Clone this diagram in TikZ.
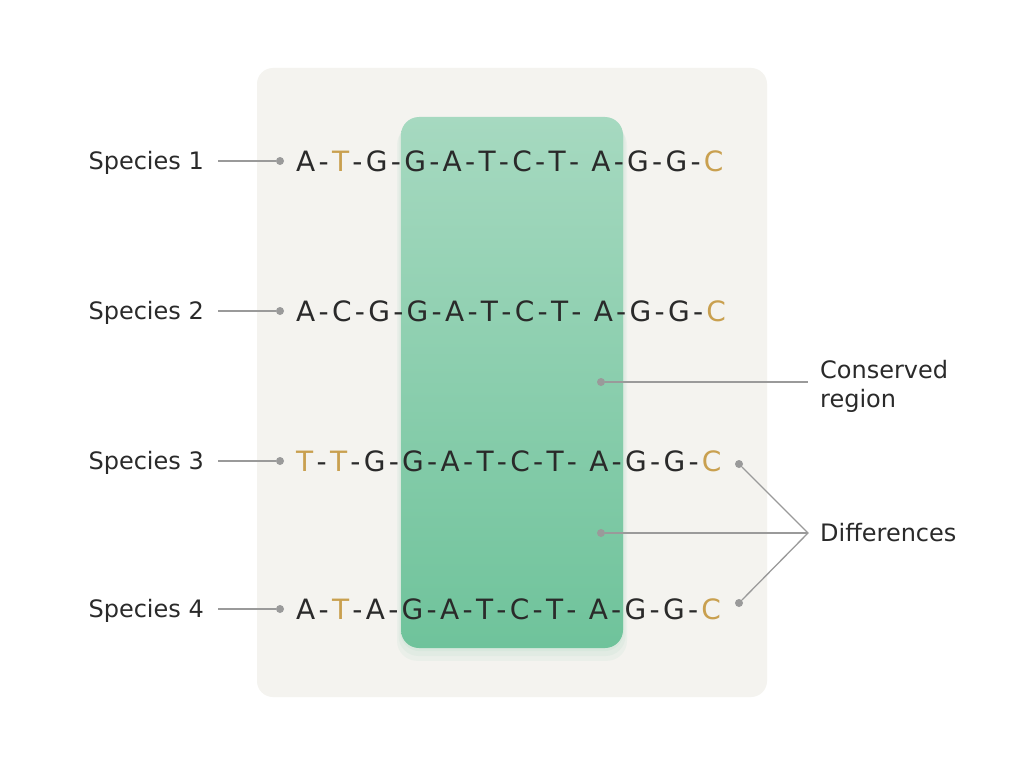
\documentclass[tikz,border=0pt]{standalone}
\usepackage{fontspec}
\setmainfont{DejaVu Sans}
\usetikzlibrary{positioning}

\definecolor{ink}{HTML}{2A2A2A}
\definecolor{gold}{HTML}{C9A04F}
\definecolor{panel}{HTML}{F4F3EF}
\definecolor{wiregray}{HTML}{9A9A9A}
\definecolor{greentop}{HTML}{A6D9C0}
\definecolor{greenbot}{HTML}{6FC39B}

\newcommand{\bond}{\kern3.3pt-\kern3.3pt}
\newcommand{\dif}[1]{\textcolor{gold}{#1}}

\begin{document}
\begin{tikzpicture}[x=1pt, y=-1pt,
    tag/.style = {font=\fontsize{24}{29}\selectfont, text=ink, inner sep=0pt},
    seq/.style = {font=\fontsize{28}{30}\selectfont, text=ink, inner sep=0pt},
    dot/.style = {circle, fill=wiregray, inner sep=0pt, minimum size=8pt},
    wire/.style = {draw=wiregray, line width=1.3pt}]
  \useasboundingbox (0,0) rectangle (1024,765);
  \fill[white] (0,0) rectangle (1024,765);
  % panel and conserved block
  \fill[panel, rounded corners=16pt] (257,68) rectangle (767,697);
  \foreach \g in {8,5,2}
    \fill[greenbot, opacity=0.07, rounded corners=20pt]
      (401-\g/2,117+\g) rectangle (623+\g/2,648+\g*1.6);
  \shade[top color=greentop, bottom color=greenbot, rounded corners=18pt]
    (401,117) rectangle (623,648);

  % species labels
  \foreach \i/\y in {1/161,2/311,3/461,4/609}{
    \node[tag, anchor=base east] (sp\i) at (204,\y+8.5) {Species \i};
    \node[dot] (pin\i) at (280,\y) {};
    \draw[wire] (sp\i.east |- pin\i) ++(14,0) -- (pin\i);
  }

  % sequences
  \node[seq, anchor=west] (seq1) at (296,161)
    {A\bond\dif{T}\bond G\bond G\bond A\bond T\bond C\bond T\bond\ A\bond G\bond G\bond\dif{C}};
  \node[seq, anchor=west] (seq2) at (296,311)
    {A\bond C\bond G\bond G\bond A\bond T\bond C\bond T\bond\ A\bond G\bond G\bond\dif{C}};
  \node[seq, anchor=west] (seq3) at (296,461)
    {\dif{T}\bond\dif{T}\bond G\bond G\bond A\bond T\bond C\bond T\bond\ A\bond G\bond G\bond\dif{C}};
  \node[seq, anchor=west] (seq4) at (296,609)
    {A\bond\dif{T}\bond A\bond G\bond A\bond T\bond C\bond T\bond\ A\bond G\bond G\bond\dif{C}};

  % conserved region callout
  \node[dot] (cons) at (601,382) {};
  \coordinate (consend) at (808,382);
  \node[tag, anchor=west, align=left] (constxt) at (820,386) {Conserved\\region};
  \draw[wire] (cons) -- (consend);

  % differences callout
  \node[dot] (diff3) at (739,464) {};
  \node[dot] (diff4) at (739,603) {};
  \node[dot] (mid) at (601,533) {};
  \coordinate (fork) at (808,533);
  \node[tag, anchor=west] (difftxt) at (820,533) {Differences};
  \draw[wire] (diff3) -- (fork) -- (diff4);
  \draw[wire] (mid) -- (fork);
\end{tikzpicture}
\end{document}
